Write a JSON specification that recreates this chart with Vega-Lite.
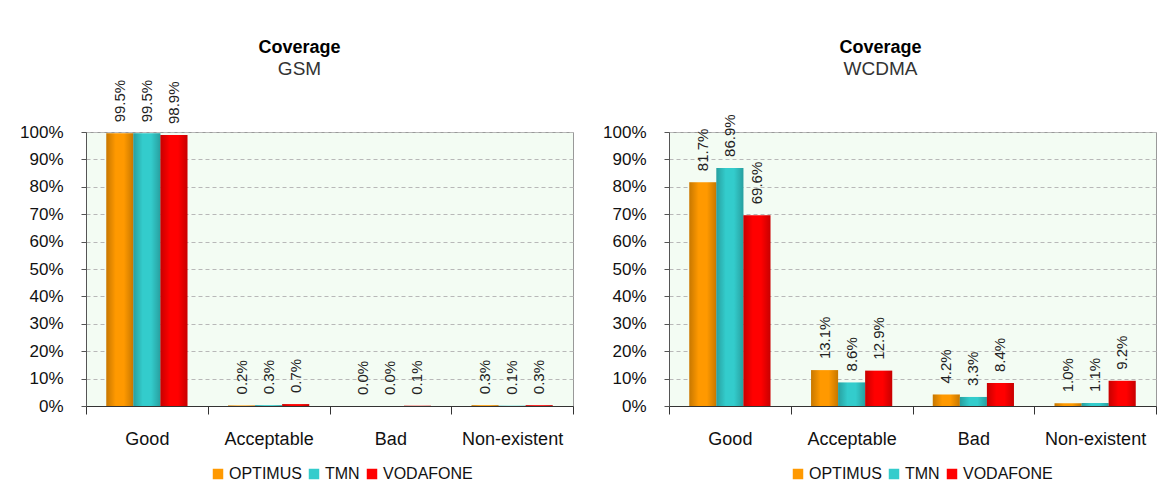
{
  "$schema": "https://vega.github.io/schema/vega-lite/v6.json",
  "background": "white",
  "padding": {"left": 19, "top": 38, "right": 2, "bottom": 0},
  "datasets": {
    "gsm": [
      {"quality": "Good", "operator": "OPTIMUS", "share": 0.995},
      {"quality": "Good", "operator": "TMN", "share": 0.995},
      {"quality": "Good", "operator": "VODAFONE", "share": 0.989},
      {"quality": "Acceptable", "operator": "OPTIMUS", "share": 0.002},
      {"quality": "Acceptable", "operator": "TMN", "share": 0.003},
      {"quality": "Acceptable", "operator": "VODAFONE", "share": 0.007},
      {"quality": "Bad", "operator": "OPTIMUS", "share": 0.0},
      {"quality": "Bad", "operator": "TMN", "share": 0.0},
      {"quality": "Bad", "operator": "VODAFONE", "share": 0.001},
      {"quality": "Non-existent", "operator": "OPTIMUS", "share": 0.003},
      {"quality": "Non-existent", "operator": "TMN", "share": 0.001},
      {"quality": "Non-existent", "operator": "VODAFONE", "share": 0.003}
    ],
    "wcdma": [
      {"quality": "Good", "operator": "OPTIMUS", "share": 0.817},
      {"quality": "Good", "operator": "TMN", "share": 0.869},
      {"quality": "Good", "operator": "VODAFONE", "share": 0.696},
      {"quality": "Acceptable", "operator": "OPTIMUS", "share": 0.131},
      {"quality": "Acceptable", "operator": "TMN", "share": 0.086},
      {"quality": "Acceptable", "operator": "VODAFONE", "share": 0.129},
      {"quality": "Bad", "operator": "OPTIMUS", "share": 0.042},
      {"quality": "Bad", "operator": "TMN", "share": 0.033},
      {"quality": "Bad", "operator": "VODAFONE", "share": 0.084},
      {"quality": "Non-existent", "operator": "OPTIMUS", "share": 0.010},
      {"quality": "Non-existent", "operator": "TMN", "share": 0.011},
      {"quality": "Non-existent", "operator": "VODAFONE", "share": 0.092}
    ]
  },
  "spacing": 28,
  "resolve": {"legend": {"color": "independent"}},
  "hconcat": [
    {
      "width": 487,
      "height": 274,
      "data": {"name": "gsm"},
      "title": {"text": "Coverage", "subtitle": "GSM", "offset": 1, "dx": 3},
      "encoding": {
        "x": {"field": "quality", "type": "nominal", "sort": ["Good", "Acceptable", "Bad", "Non-existent"], "scale": {"paddingInner": 0, "paddingOuter": 0}, "title": null},
        "xOffset": {"field": "operator", "type": "nominal", "sort": ["OPTIMUS", "TMN", "VODAFONE"], "scale": {"paddingInner": 0, "paddingOuter": 0.75}},
        "y": {"field": "share", "type": "quantitative", "scale": {"domain": [0, 1], "nice": false}, "title": null, "axis": {"values": [0, 0.1, 0.2, 0.3, 0.4, 0.5, 0.6, 0.7, 0.8, 0.9, 1]}}
      },
      "layer": [
        {
          "mark": {"type": "bar"},
          "encoding": {
            "color": {"field": "operator", "type": "nominal", "sort": ["OPTIMUS", "TMN", "VODAFONE"], "scale": {"domain": ["OPTIMUS", "TMN", "VODAFONE"], "range": ["#FF9900", "#33CCCC", "#FF0000"]},
              "legend": {"orient": "none", "legendX": 124, "legendY": 334, "direction": "horizontal", "title": null}}
          }
        },
        {
          "mark": {"type": "bar", "fill": {"gradient": "linear", "x1": 0, "y1": 0, "x2": 1, "y2": 0, "stops": [{"offset": 0, "color": "rgba(0,0,0,0.22)"}, {"offset": 0.35, "color": "rgba(0,0,0,0)"}, {"offset": 0.65, "color": "rgba(0,0,0,0)"}, {"offset": 1, "color": "rgba(0,0,0,0.22)"}]}},
          "encoding": {}
        },
        {
          "mark": {"type": "text", "angle": 270, "align": "left", "baseline": "middle", "dx": 11, "fontSize": 15, "color": "#222", "font": "Liberation Sans"},
          "encoding": {"text": {"field": "share", "type": "quantitative", "format": ".1%"}}
        }
      ]
    },
    {
      "width": 487,
      "height": 274,
      "data": {"name": "wcdma"},
      "title": {"text": "Coverage", "subtitle": "WCDMA", "offset": 35, "dx": 1},
      "encoding": {
        "x": {"field": "quality", "type": "nominal", "sort": ["Good", "Acceptable", "Bad", "Non-existent"], "scale": {"paddingInner": 0, "paddingOuter": 0}, "title": null},
        "xOffset": {"field": "operator", "type": "nominal", "sort": ["OPTIMUS", "TMN", "VODAFONE"], "scale": {"paddingInner": 0, "paddingOuter": 0.75}},
        "y": {"field": "share", "type": "quantitative", "scale": {"domain": [0, 1], "nice": false}, "title": null, "axis": {"values": [0, 0.1, 0.2, 0.3, 0.4, 0.5, 0.6, 0.7, 0.8, 0.9, 1]}}
      },
      "layer": [
        {
          "mark": {"type": "bar"},
          "encoding": {
            "color": {"field": "operator", "type": "nominal", "sort": ["OPTIMUS", "TMN", "VODAFONE"], "scale": {"domain": ["OPTIMUS", "TMN", "VODAFONE"], "range": ["#FF9900", "#33CCCC", "#FF0000"]},
              "legend": {"orient": "none", "legendX": 121, "legendY": 334, "direction": "horizontal", "title": null}}
          }
        },
        {
          "mark": {"type": "bar", "fill": {"gradient": "linear", "x1": 0, "y1": 0, "x2": 1, "y2": 0, "stops": [{"offset": 0, "color": "rgba(0,0,0,0.22)"}, {"offset": 0.35, "color": "rgba(0,0,0,0)"}, {"offset": 0.65, "color": "rgba(0,0,0,0)"}, {"offset": 1, "color": "rgba(0,0,0,0.22)"}]}},
          "encoding": {}
        },
        {
          "mark": {"type": "text", "angle": 270, "align": "left", "baseline": "middle", "dx": 11, "fontSize": 15, "color": "#222", "font": "Liberation Sans"},
          "encoding": {"text": {"field": "share", "type": "quantitative", "format": ".1%"}}
        }
      ]
    }
  ],
  "config": {
    "font": "Liberation Sans",
    "view": {"stroke": "#999999", "fill": "#f3fcf3"},
    "title": {"anchor": "middle", "frame": "bounds", "fontSize": 18, "fontWeight": "bold", "color": "#000", "subtitleFontSize": 19, "subtitleColor": "#333", "subtitlePadding": 3, "font": "Liberation Sans", "subtitleFont": "Liberation Sans"},
    "axisX": {"labelAngle": 0, "labelFontSize": 18, "labelColor": "#111", "labelPadding": 16, "tickSize": 8, "tickBand": "extent", "domainColor": "#333", "tickColor": "#333", "grid": false},
    "axisY": {"format": ".0%", "labelFontSize": 17, "labelColor": "#111", "labelPadding": 18, "tickSize": 5, "domainColor": "#555", "tickColor": "#555", "gridColor": "#b8b8b8", "gridDash": [4, 3]},
    "legend": {"symbolType": "square", "symbolSize": 110, "symbolStrokeWidth": 0, "labelFontSize": 16, "labelColor": "#111", "columnPadding": 4, "labelOffset": 3}
  }
}
